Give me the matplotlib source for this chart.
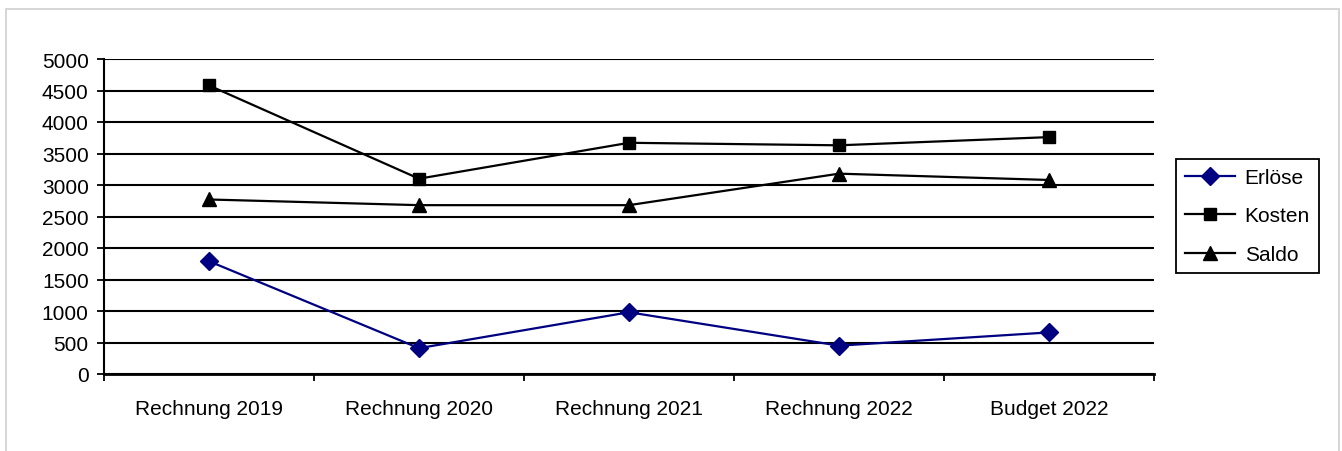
import matplotlib
matplotlib.use("Agg")
import matplotlib.pyplot as plt
from matplotlib.patches import Rectangle

# === Data ===
categories = ["Rechnung 2019", "Rechnung 2020", "Rechnung 2021", "Rechnung 2022", "Budget 2022"]
erloese = [1790, 410, 980, 450, 660]
kosten = [4580, 3100, 3670, 3630, 3760]
saldo = [2770, 2680, 2680, 3180, 3080]

plt.rcParams["font.family"] = ["Liberation Sans", "DejaVu Sans"]
FS = 15

fig = plt.figure(figsize=(13.42, 4.52), dpi=100)
ax = fig.add_axes([104 / 1342, 1 - 375 / 452, 1050 / 1342, 315 / 452])

x = range(len(categories))
ax.plot(x, erloese, color="#000080", marker="D", markersize=9, linewidth=1.6, label="Erlöse")
ax.plot(x, kosten, color="black", marker="s", markersize=9, linewidth=1.6, label="Kosten")
ax.plot(x, saldo, color="black", marker="^", markersize=10.5, linewidth=1.6, label="Saldo")

# === Axes ===
ax.set_xlim(-0.5, len(categories) - 0.5)
ax.set_ylim(0, 5000)
ax.set_yticks(range(0, 5001, 500))
ax.set_xticks(list(x))
ax.set_xticklabels(categories, fontsize=FS)
ax.set_xticks([i - 0.5 for i in range(len(categories) + 1)], minor=True)
ax.tick_params(axis="x", which="major", length=0, pad=18)
ax.tick_params(axis="x", which="minor", length=5, width=1.3, direction="out")
ax.tick_params(axis="y", length=5, width=1.3, direction="out", pad=6, labelsize=FS)
ax.yaxis.grid(True, color="black", linewidth=1.5)
ax.set_axisbelow(True)
for side in ["top", "right"]:
    ax.spines[side].set_visible(False)
ax.spines["left"].set_linewidth(1.5)
ax.spines["bottom"].set_linewidth(2)

# === Legend ===
leg = fig.legend(loc="center left", bbox_to_anchor=(1176 / 1342, 1 - 217 / 452),
                 fontsize=FS, frameon=True, fancybox=False, framealpha=1,
                 edgecolor="black", handlelength=2.4, handletextpad=0.45,
                 labelspacing=0.93, borderpad=0.45, borderaxespad=0)
leg.get_frame().set_linewidth(1.3)

# outer chart border
fig.patches.append(Rectangle((6 / 1342, -0.05), 1333 / 1342, 1.05 - 9.5 / 452,
                             transform=fig.transFigure, fill=False,
                             edgecolor="#d0d0d0", linewidth=1.2))

fig.savefig("out.png", dpi=100)
